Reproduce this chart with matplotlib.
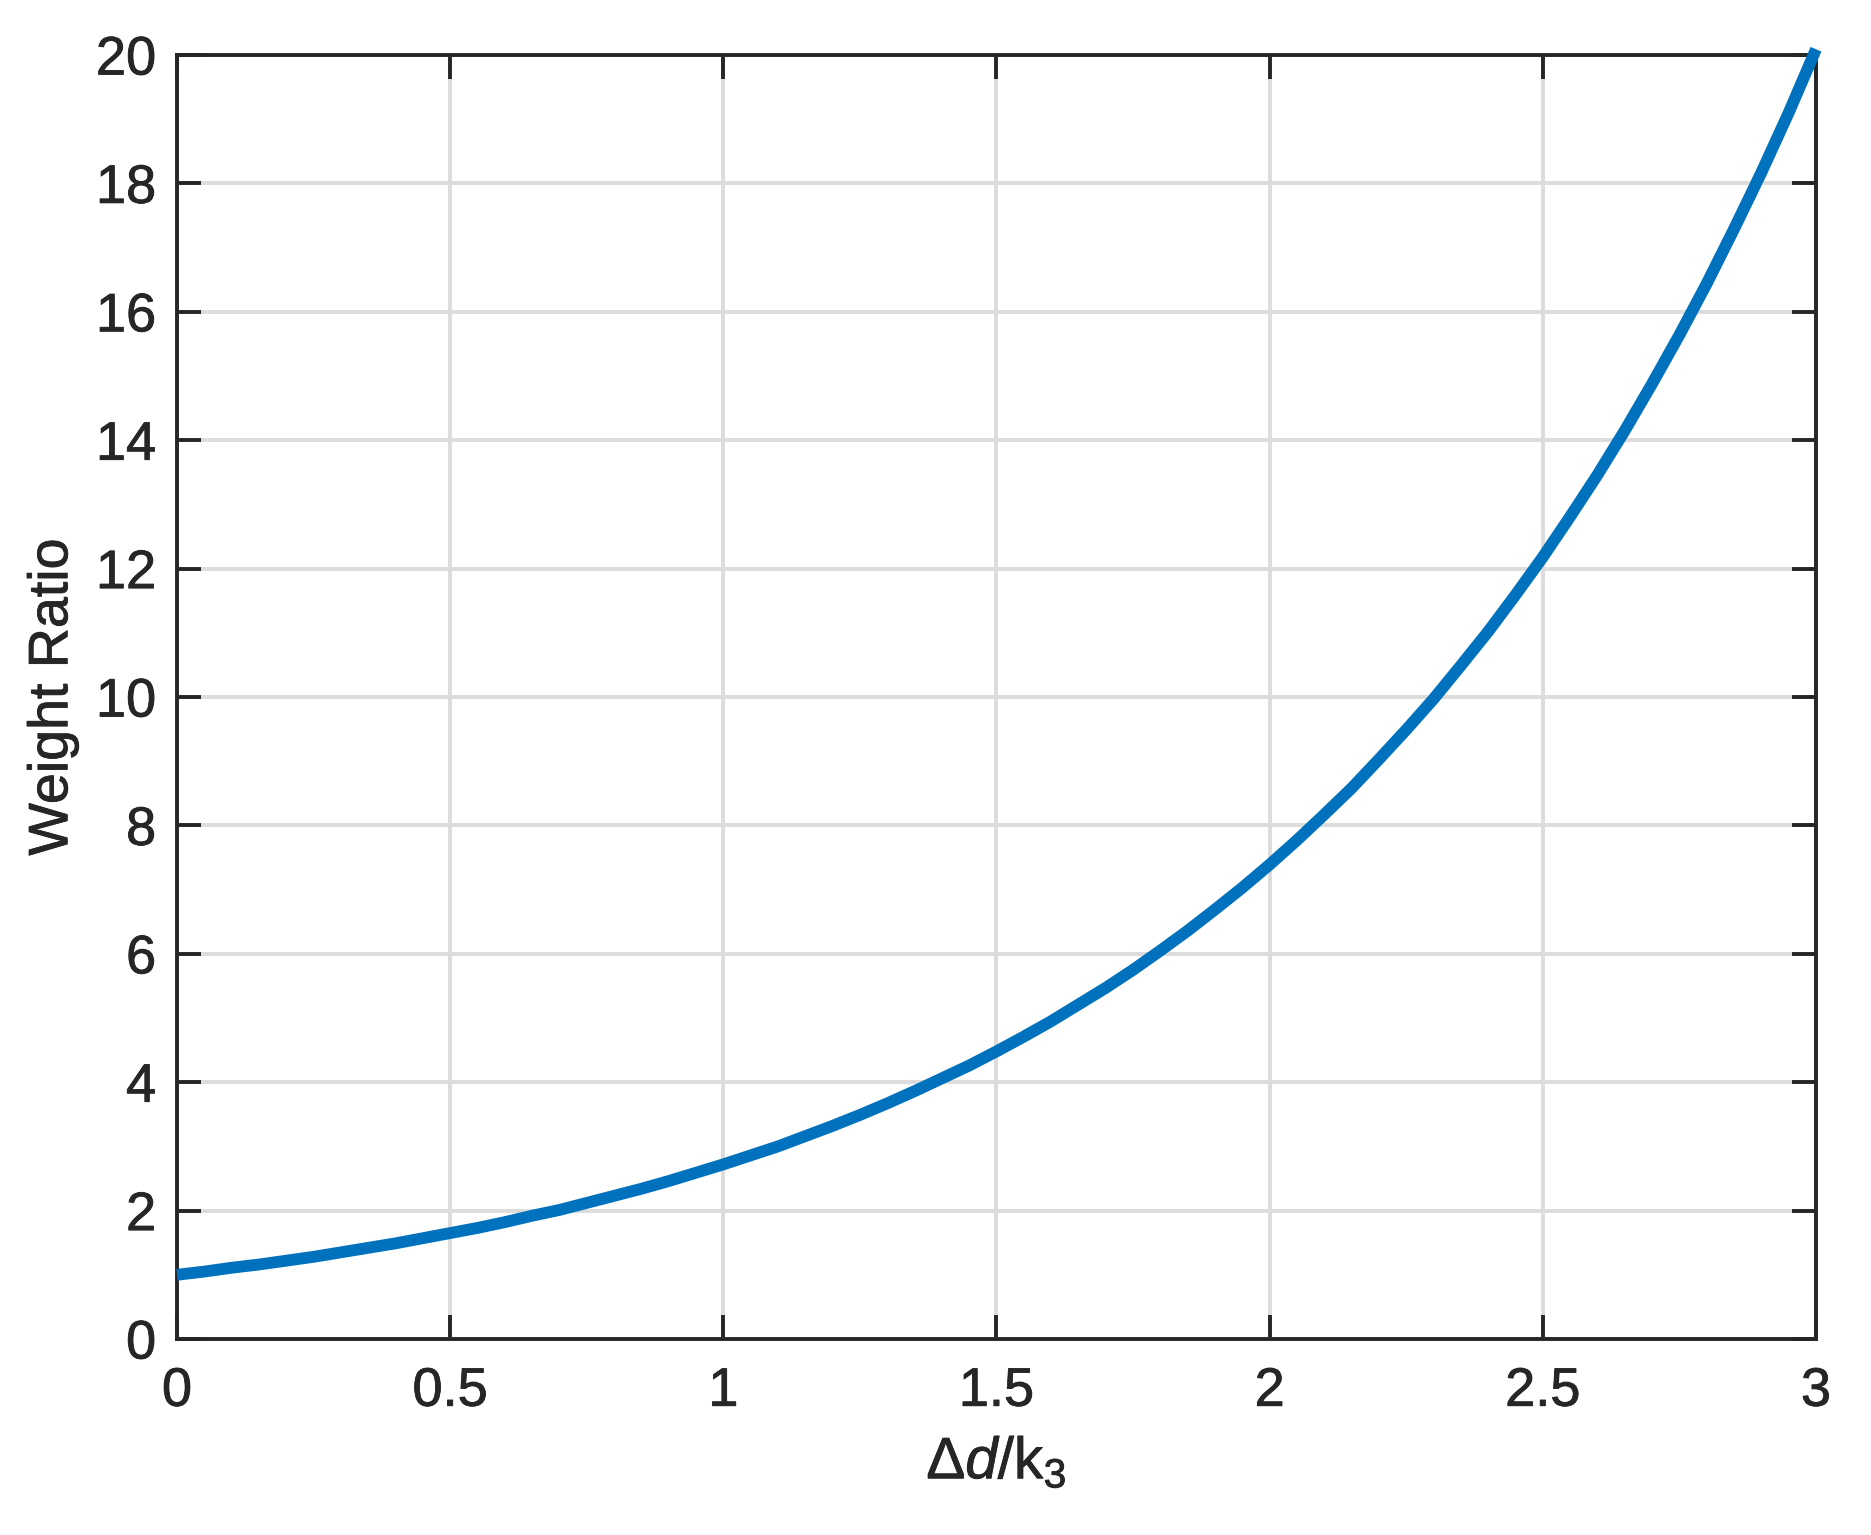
import matplotlib
matplotlib.use("Agg")
import matplotlib.pyplot as plt
import matplotlib.patheffects as pe

# Data
x_vals = [0.00, 0.05, 0.10, 0.15, 0.20, 0.25, 0.30, 0.35, 0.40, 0.45, 0.50,
          0.55, 0.60, 0.65, 0.70, 0.75, 0.80, 0.85, 0.90, 0.95, 1.00,
          1.05, 1.10, 1.15, 1.20, 1.25, 1.30, 1.35, 1.40, 1.45, 1.50,
          1.55, 1.60, 1.65, 1.70, 1.75, 1.80, 1.85, 1.90, 1.95, 2.00,
          2.05, 2.10, 2.15, 2.20, 2.25, 2.30, 2.35, 2.40, 2.45, 2.50,
          2.55, 2.60, 2.65, 2.70, 2.75, 2.80, 2.85, 2.90, 2.95, 3.00]
weight_ratio = [1.00, 1.05, 1.11, 1.16, 1.22, 1.28, 1.35, 1.42, 1.49, 1.57, 1.65,
                1.73, 1.82, 1.92, 2.01, 2.12, 2.23, 2.34, 2.46, 2.59, 2.72,
                2.86, 3.00, 3.16, 3.32, 3.49, 3.67, 3.86, 4.06, 4.26, 4.48,
                4.71, 4.95, 5.21, 5.47, 5.75, 6.05, 6.36, 6.69, 7.03, 7.39,
                7.77, 8.17, 8.58, 9.03, 9.49, 9.97, 10.49, 11.02, 11.59, 12.18,
                12.81, 13.46, 14.15, 14.88, 15.64, 16.44, 17.29, 18.17, 19.10, 20.09]
x_ticks = [0, 0.5, 1, 1.5, 2, 2.5, 3]
x_tick_labels = ["0", "0.5", "1", "1.5", "2", "2.5", "3"]
y_ticks = [0, 2, 4, 6, 8, 10, 12, 14, 16, 18, 20]

plt.rcParams['font.family'] = ['Liberation Sans', 'DejaVu Sans']
plt.rcParams['mathtext.fontset'] = 'custom'
plt.rcParams['mathtext.rm'] = 'Liberation Sans'
plt.rcParams['mathtext.it'] = 'Liberation Sans:italic'

txt = '#262626'
heavy = [pe.withStroke(linewidth=0.6, foreground=txt)]

fig = plt.figure(figsize=(18.71, 15.35), dpi=100)
ax = fig.add_axes([177/1871, 1 - 1339/1535, (1816-177)/1871, (1339-55)/1535])

ax.plot(x_vals, weight_ratio, color='#0072BD', lw=8.5, clip_on=False, zorder=3,
        solid_capstyle='butt', solid_joinstyle='round')

ax.set_xlim(0, 3)
ax.set_ylim(0, 20)
ax.set_xticks(x_ticks)
ax.set_xticklabels(x_tick_labels)
ax.set_yticks(y_ticks)
ax.grid(True, color='#dcdcdc', lw=2.8)
ax.set_axisbelow(True)

for s in ax.spines.values():
    s.set_color(txt)
    s.set_linewidth(2.8)

ax.tick_params(axis='both', direction='in', length=17, width=2.8, color=txt,
               labelsize=39, labelcolor=txt, top=True, right=True)
ax.tick_params(axis='x', pad=20)
ax.tick_params(axis='y', pad=15)
for lab in ax.get_xticklabels() + ax.get_yticklabels():
    lab.set_path_effects(heavy)

xl = ax.set_xlabel(r'$\Delta\mathit{d}/\mathrm{k}_3$', fontsize=42, color=txt, labelpad=14)
yl = ax.set_ylabel('Weight Ratio', fontsize=40, color=txt, labelpad=12)
xl.set_path_effects(heavy)
yl.set_path_effects(heavy)

fig.savefig('out.png', dpi=100)
